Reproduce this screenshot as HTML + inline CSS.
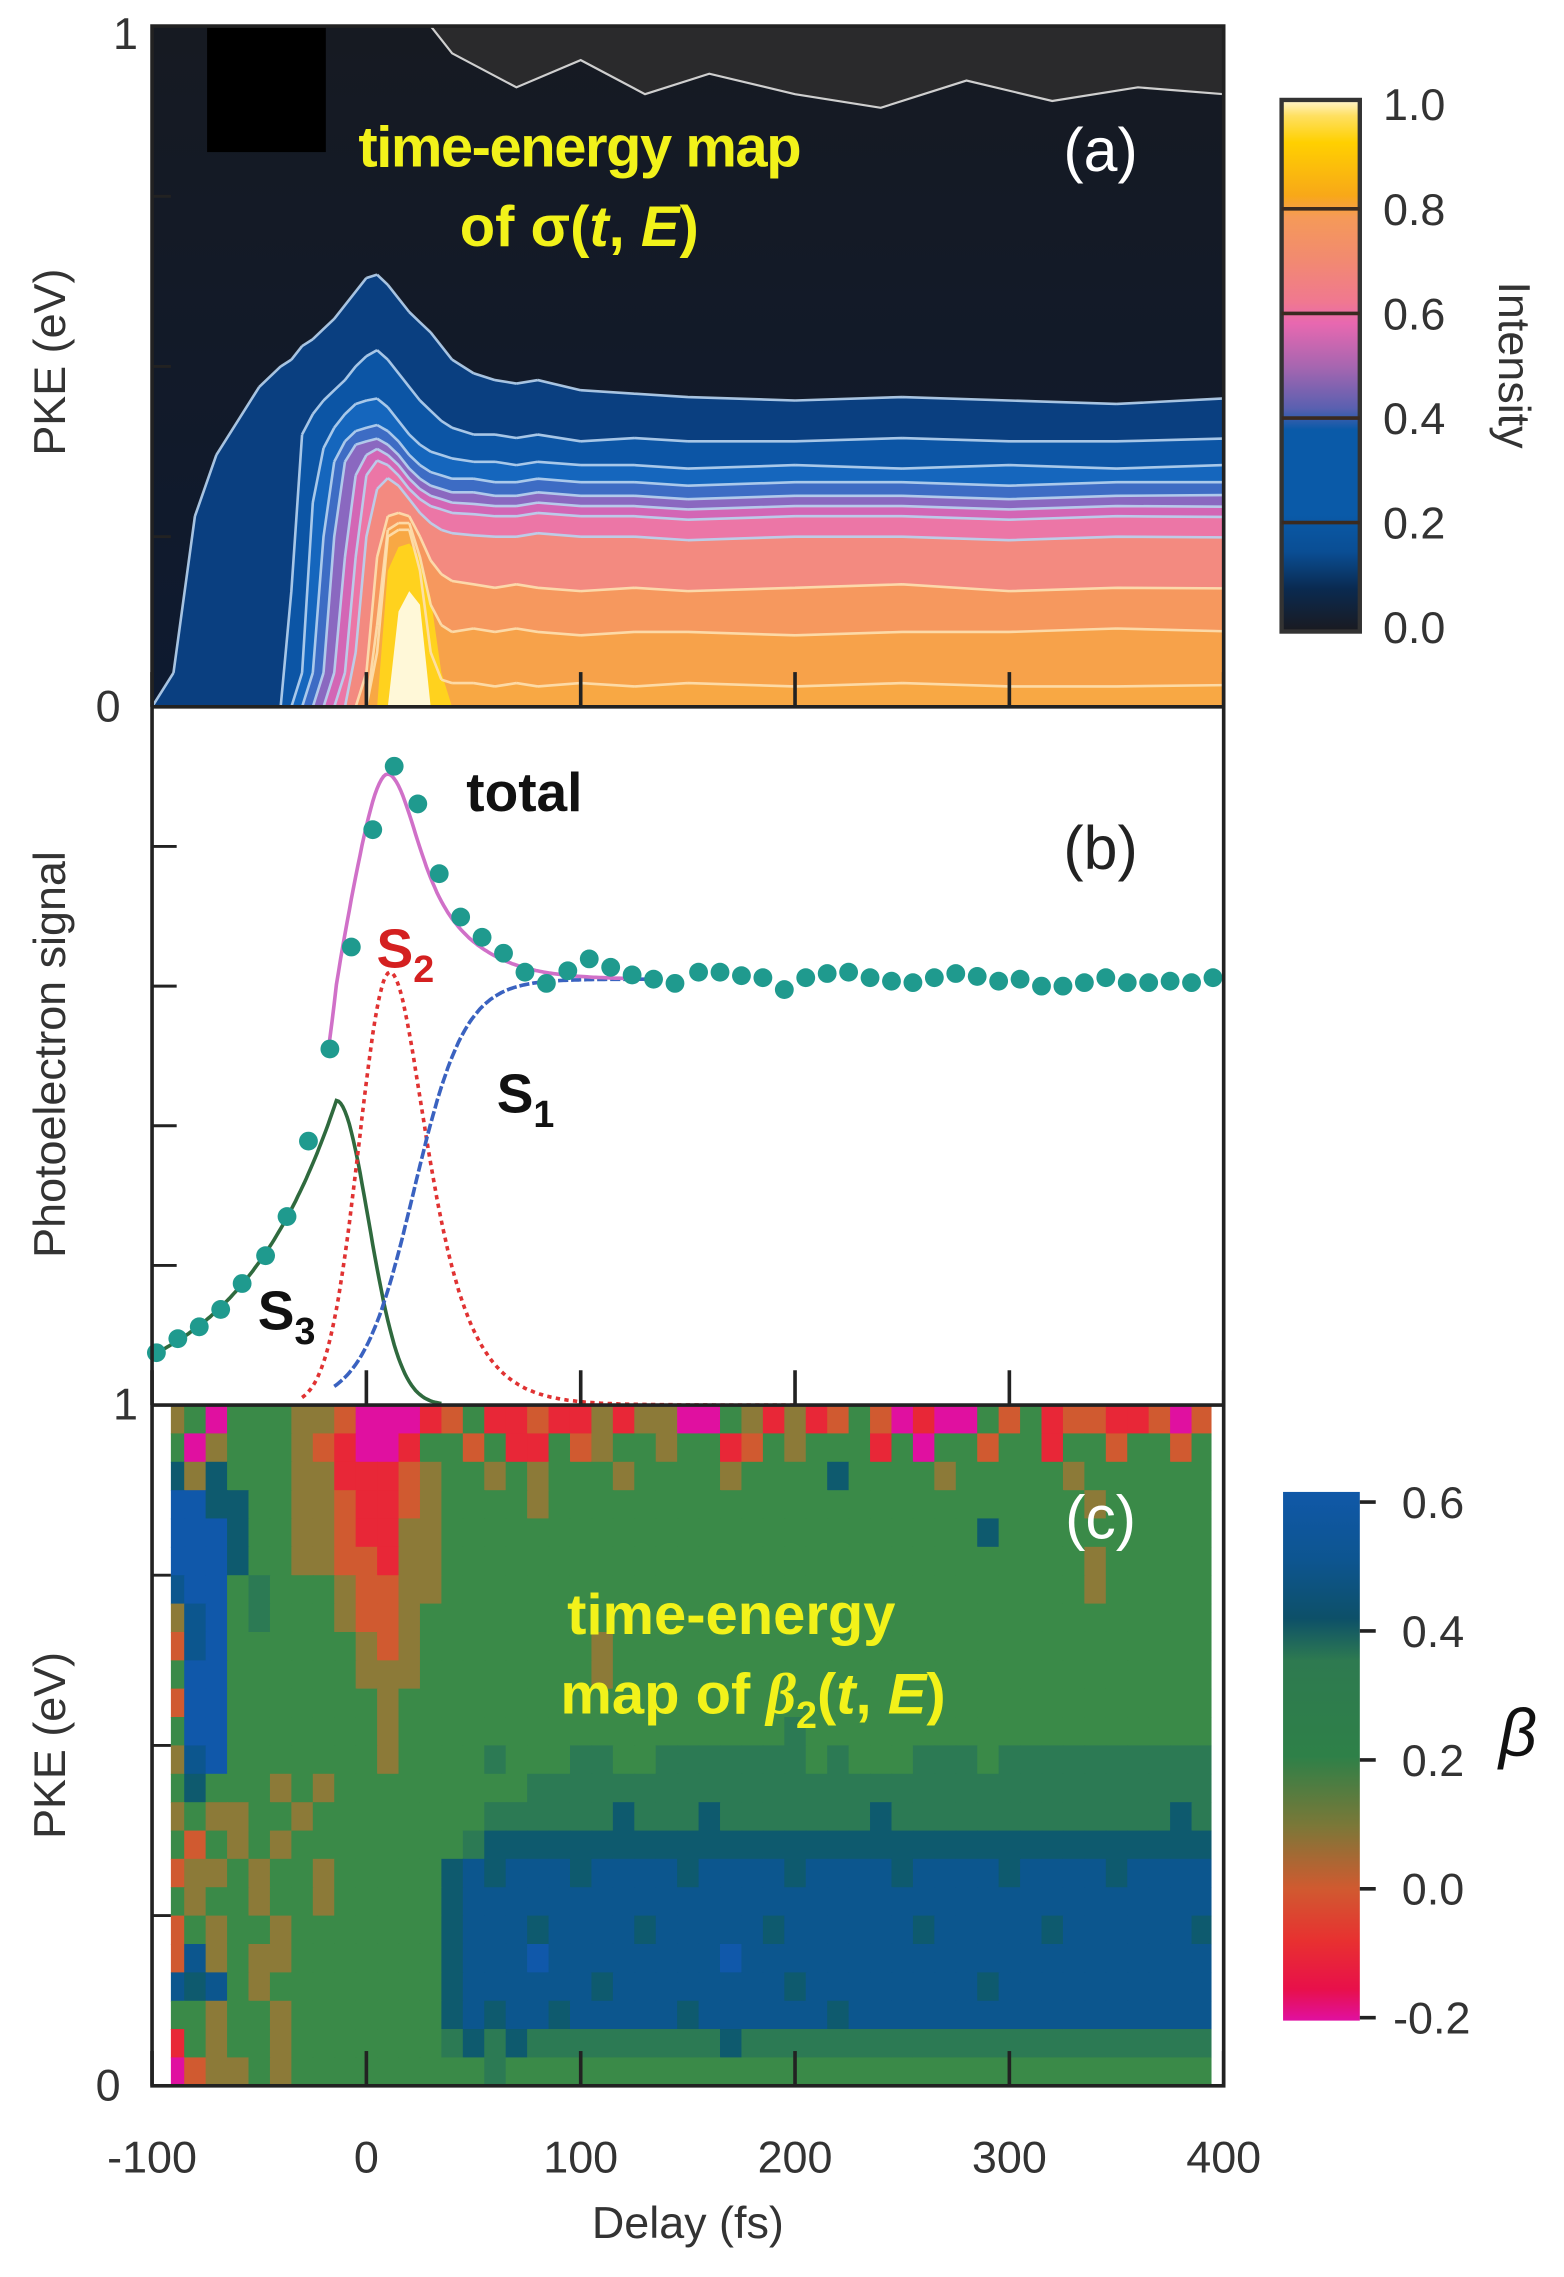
<!DOCTYPE html>
<html><head><meta charset="utf-8"><title>Time-energy maps</title>
<style>html,body{margin:0;padding:0;background:#fff}svg{display:block}text{font-family:"Liberation Sans",sans-serif}</style>
</head><body>
<svg id="fig" xmlns="http://www.w3.org/2000/svg" width="1564" height="2277" viewBox="0 0 1080 1572" preserveAspectRatio="none">
<defs>
<clipPath id="clipA"><rect x="105" y="18" width="740" height="470"/></clipPath>
<clipPath id="clipB"><rect x="105" y="488" width="740" height="482"/></clipPath>
<linearGradient id="gradA" x1="0" y1="1" x2="0" y2="0">
<stop offset="0" stop-color="#1a1a20"/><stop offset="0.08" stop-color="#0a2a50"/><stop offset="0.15" stop-color="#0a4e94"/><stop offset="0.22" stop-color="#0a5aa8"/><stop offset="0.38" stop-color="#0a5aa8"/><stop offset="0.42" stop-color="#5a60b0"/><stop offset="0.5" stop-color="#a866b0"/><stop offset="0.58" stop-color="#e868b0"/><stop offset="0.62" stop-color="#f07890"/><stop offset="0.7" stop-color="#f28a70"/><stop offset="0.78" stop-color="#f59a58"/><stop offset="0.82" stop-color="#f8a818"/><stop offset="0.92" stop-color="#ffd000"/><stop offset="0.97" stop-color="#ffe060"/><stop offset="1" stop-color="#fff5d0"/>
</linearGradient>
<linearGradient id="gradC" x1="0" y1="1" x2="0" y2="0">
<stop offset="0" stop-color="#e010a0"/><stop offset="0.06" stop-color="#e8104a"/><stop offset="0.15" stop-color="#e83030"/><stop offset="0.25" stop-color="#d05a30"/><stop offset="0.37" stop-color="#7a7838"/><stop offset="0.5" stop-color="#2e8048"/><stop offset="0.68" stop-color="#2e7a50"/><stop offset="0.76" stop-color="#0d5068"/><stop offset="0.87" stop-color="#0d5590"/><stop offset="1" stop-color="#1058a8"/>
</linearGradient>
<linearGradient id="bgA" x1="0" y1="0" x2="0" y2="1"><stop offset="0" stop-color="#161a22"/><stop offset="1" stop-color="#0e1a30"/></linearGradient>
</defs>
<g id="panelA" clip-path="url(#clipA)"></g>
<g id="panelB"></g>
<g id="panelC"></g>
<g id="overlay"></g>
</svg>
<script>
// ---------- Panel (a) data: contour boundaries (PKE in eV) vs delay ----------
const contourDelays = [-100,-90,-80,-70,-60,-50,-40,-35,-30,-25,-20,-15,-10,-5,0,5,10,15,20,25,30,35,40,50,60,70,80,100,125,150,200,250,300,350,400];
const contour1 = [0,.05,.28,.37,.42,.47,.50,.51,.53,.54,.555,.57,.59,.61,.63,.635,.62,.60,.58,.565,.55,.53,.51,.49,.48,.475,.48,.465,.46,.455,.45,.455,.45,.445,.453];
const contour2 = [0,0,0,0,0,0,0,.17,.40,.43,.45,.465,.48,.50,.515,.524,.51,.49,.47,.45,.435,.42,.41,.40,.40,.395,.40,.39,.395,.39,.39,.395,.39,.39,.394];
const contour3 = [0,0,0,0,0,0,0,0,.05,.30,.38,.41,.43,.445,.45,.453,.44,.42,.40,.385,.375,.37,.365,.36,.36,.355,.36,.355,.355,.35,.355,.35,.355,.35,.355];
const contour4 = [0,0,0,0,0,0,0,0,0,.05,.25,.36,.39,.405,.41,.414,.405,.39,.37,.355,.345,.34,.335,.335,.33,.33,.335,.33,.33,.325,.33,.33,.325,.33,.33];
const contour5 = [0,0,0,0,0,0,0,0,0,0,.05,.25,.36,.385,.39,.394,.385,.37,.35,.335,.325,.32,.315,.315,.31,.31,.315,.31,.31,.305,.31,.31,.305,.31,.311];
const contour6 = [0,0,0,0,0,0,0,0,0,0,0,.05,.22,.34,.37,.379,.37,.355,.335,.32,.31,.305,.30,.298,.295,.295,.30,.295,.295,.29,.295,.295,.29,.295,.294];
const contour7 = [0,0,0,0,0,0,0,0,0,0,0,0,.05,.22,.34,.362,.355,.34,.32,.305,.295,.29,.285,.283,.28,.28,.285,.28,.28,.275,.28,.28,.275,.28,.279];
const contour8 = [0,0,0,0,0,0,0,0,0,0,0,0,0,.08,.25,.32,.336,.325,.305,.285,.27,.26,.255,.252,.25,.25,.255,.25,.25,.245,.25,.25,.245,.25,.249];
const contour9 = [0,0,0,0,0,0,0,0,0,0,0,0,0,0,.05,.22,.28,.285,.28,.25,.215,.195,.185,.18,.175,.18,.175,.17,.175,.17,.175,.18,.17,.175,.174];
const contour10 = [0,0,0,0,0,0,0,0,0,0,0,0,0,0,0,.12,.26,.27,.27,.22,.15,.12,.11,.115,.11,.115,.11,.105,.11,.11,.105,.11,.11,.115,.111];
const contour11 = [0,0,0,0,0,0,0,0,0,0,0,0,0,0,0,.08,.25,.26,.26,.2,.08,.04,.035,.035,.03,.035,.03,.035,.03,.035,.03,.035,.03,.03,.032];
const contour12 = [0,0,0,0,0,0,0,0,0,0,0,0,0,0,0,0,.2,.235,.24,.22,.16,.05,0,0,0,0,0,0,0,0,0,0,0,0,0];
const contour13 = [0,0,0,0,0,0,0,0,0,0,0,0,0,0,0,0,0,.14,.17,.15,0,0,0,0,0,0,0,0,0,0,0,0,0,0,0];
const contourColors = ["#0a3f80","#0c55a5","#1566bd","#3d6cc4","#8a68c0","#d366b5","#ec76a6","#f38a80","#f6985e","#f7a24a","#f8a844","#ffd21e","#fff8d8"];

// ---------- Panel (b) data ----------
const dotDelays = [-98,-88,-78,-68,-58,-47,-37,-27,-17,-7,3,13,24,34,44,54,64,74,84,94,104,114,124,134,144,155,165,175,185,195,205,215,225,235,245,255,265,275,285,295,305,315,325,335,345,355,365,375,385,395];
const dotSignal = [.075,.095,.112,.137,.174,.214,.27,.378,.51,.656,.824,.915,.861,.761,.699,.670,.647,.620,.604,.622,.639,.627,.616,.610,.604,.620,.620,.615,.612,.595,.612,.618,.62,.612,.607,.605,.612,.618,.614,.607,.61,.6,.6,.605,.612,.605,.605,.607,.605,.612];
const s1Params = [0.61, 22, 12];        // amplitude, centre (fs), width (fs)
const s2Params = [0.62, 11, 14.4, 16];  // amplitude, centre, rise sigma, decay width
const s3Params = [0.436, -14, 47.6, 15];// amplitude, peak, rise tau, decay sigma
const yTicksB = [0.2,0.4,0.6,0.8];

// ---------- Panel (c) data: beta code per cell (beta = -0.2 + 0.1*digit) ----------
const betaDelayStart = -90;
const betaRows = [
"3404443320001241121131330043131242010042412211202",
"4034443210014424114234434412434441404424414424424",
"6364443311123443434443444434444644443444443444444",
"8866443321123444434444444444444444444444444344444",
"8886443321133444444444444444444444444464444444444",
"8886443322133444444444444444444444444444444344444",
"7884544432233444444444444444444444444444444344444",
"3784544432234444444444444444444444444444444444444",
"2784444443234444444434444444444444444444444444444",
"4884444443334444444434444444444444444444444444444",
"2884444444344444444444444444444444444444444444444",
"4884444444344444444444444444454444444444444444444",
"3784444444344445444554455555554544455545555555555",
"4644434344444444455555555555555555555555555555555",
"3433443444444445555556555655555556555555555555565",
"4243434444444456666666666666666666666666666666666",
"2334344344444676777677776777767777677776777767777",
"4344344344444677777777777777777777777777777777777",
"2434434444444677767777677777677777767777767777776",
"2734334444444677787777777787777777777777777777777",
"7674344444444677777767777777767777777767777777777",
"4434434444444676776777776777777677777777777777777",
"1434434444444565655555555565555555555555555555555",
"0233434444444445444444444444444444444444444444444"];
const betaColorStops = [[-0.2,[224,16,160]],[-0.15,[232,16,74]],[-0.08,[232,48,48]],[0.0,[208,90,48]],[0.1,[140,122,56]],[0.2,[58,138,72]],[0.3,[44,122,84]],[0.4,[14,90,110]],[0.5,[12,86,142]],[0.6,[16,88,170]]];

const xTicks = [-100,0,100,200,300,400];
const cbarATicks = [0.0,0.2,0.4,0.6,0.8,1.0];
const cbarCTicks = [-0.2,0.0,0.2,0.4,0.6];

// ---------- scales ----------
const NS = "http://www.w3.org/2000/svg";
const xS = t => 105 + (t + 100) * 1.48;
const yA = p => 488 - p * 470;
const yB = v => 970 - v * 482;
const yC = p => 1440 - p * 470;
function mk(tag, attrs, parent) { const e = document.createElementNS(NS, tag); for (const k in attrs) e.setAttribute(k, attrs[k]); parent.appendChild(e); return e; }

// ---------- Panel A ----------
const gA = document.getElementById('panelA');
const bg = mk('rect', {x:105, y:18, width:740, height:470, fill:'url(#bgA)'}, gA);


// noisy gray patches at the top
const patchDelays = [40,70,100,130,160,200,240,280,320,360,400];
const patchDepth = [0.96,0.91,0.95,0.9,0.93,0.9,0.88,0.92,0.89,0.91,0.9];
let pd = 'M' + xS(30) + ',' + yA(1);
patchDelays.forEach((t,i) => { pd += ' L' + xS(t) + ',' + yA(patchDepth[i]); });
pd += ' L' + xS(400) + ',' + yA(1) + ' Z';
const patch = mk('path', {d:pd, fill:'#2a2a2c', stroke:'#cfcfcf', 'stroke-width':1.5}, gA);


const blk = mk('rect', {x:143, y:18, width:82, height:87, fill:'#000'}, gA);



const contours = [contour1,contour2,contour3,contour4,contour5,contour6,contour7,contour8,contour9,contour10,contour11,contour12,contour13];
contours.forEach((c, ci) => {
  let d = 'M' + xS(contourDelays[0]) + ',' + yA(0);
  c.forEach((p, i) => { d += ' L' + xS(contourDelays[i]).toFixed(1) + ',' + yA(p).toFixed(1); });
  d += ' L' + xS(400) + ',' + yA(0) + ' Z';
  const band = mk('path', {d:d, fill:contourColors[ci]}, gA);
  
  
});
contours.forEach((c, ci) => {
  if (ci >= 11) return;
  let d = '';
  for (let i = 1; i < c.length; i++) {
    if (c[i] === 0 && c[i-1] === 0) continue;
    d += 'M' + xS(contourDelays[i-1]).toFixed(1) + ',' + yA(c[i-1]).toFixed(1) + ' L' + xS(contourDelays[i]).toFixed(1) + ',' + yA(c[i]).toFixed(1) + ' ';
  }
  const line = mk('path', {d:d, fill:'none', stroke: ci < 8 ? '#b8d4f0' : '#fde0b0', 'stroke-width':1.8, 'stroke-linejoin':'round', opacity:0.9}, gA);
  
  
});

// ---------- Panel B ----------
const gB = document.getElementById('panelB');
const bgB = mk('rect', {x:105, y:488, width:740, height:482, fill:'#fff'}, gB);


const S1 = t => s1Params[0] / (1 + Math.exp(-(t - s1Params[1]) / s1Params[2]));
const S2 = t => t < s2Params[1] ? s2Params[0] * Math.exp(-Math.pow(t - s2Params[1], 2) / (2 * s2Params[2] * s2Params[2])) : s2Params[0] / Math.cosh((t - s2Params[1]) / s2Params[3]);
const S3 = t => t < s3Params[1] ? s3Params[0] * Math.exp((t - s3Params[1]) / s3Params[2]) : s3Params[0] * Math.exp(-Math.pow(t - s3Params[1], 2) / (2 * s3Params[3] * s3Params[3]));
function curve(f, t0, t1) { let d = ''; for (let t = t0; t <= t1; t += 1) { const v = Math.max(f(t), 0); d += (d ? ' L' : 'M') + xS(t).toFixed(1) + ',' + Math.min(yB(v), 970).toFixed(1); } return d; }
const gBc = mk('g', {'clip-path':'url(#clipB)'}, gB);
const c3 = mk('path', {d:curve(S3, -100, 35), fill:'none', stroke:'#2f6a3e', 'stroke-width':2.5}, gBc);


const c2 = mk('path', {d:curve(S2, -30, 200), fill:'none', stroke:'#e03232', 'stroke-width':2.5, 'stroke-dasharray':'3,3'}, gBc);


const c1 = mk('path', {d:curve(S1, -15, 135), fill:'none', stroke:'#3a62c0', 'stroke-width':2.5, 'stroke-dasharray':'7,2'}, gBc);


const ct = mk('path', {d:curve(t => S1(t)+S2(t)+S3(t), -18, 125), fill:'none', stroke:'#d070c8', 'stroke-width':2.5}, gBc);


dotDelays.forEach((t, i) => {
  const dot = mk('circle', {cx:xS(t).toFixed(1), cy:yB(dotSignal[i]).toFixed(1), r:6.5, fill:'#1f9a8e'}, gB);
  
  
});

// ---------- Panel C ----------
const gC = document.getElementById('panelC');
const bgC = mk('rect', {x:105, y:970, width:740, height:470, fill:'#fff'}, gC);


function betaColor(b) {
  const s = betaColorStops;
  if (b <= s[0][0]) return 'rgb(' + s[0][1].join(',') + ')';
  for (let i = 1; i < s.length; i++) {
    if (b <= s[i][0]) { const f = (b - s[i-1][0]) / (s[i][0] - s[i-1][0]); const c = s[i-1][1].map((v, k) => Math.round(v + (s[i][1][k] - v) * f)); return 'rgb(' + c.join(',') + ')'; }
  }
  return 'rgb(' + s[s.length-1][1].join(',') + ')';
}
const nRows = betaRows.length;
betaRows.forEach((row, r) => {
  for (let c = 0; c < row.length; c++) {
    const beta = -0.2 + 0.1 * parseInt(row.charAt(c), 10);
    const t0 = betaDelayStart + c * 10 - 5;
    const p1 = 1 - r / nRows, p0 = 1 - (r + 1) / nRows;
    const x0 = Math.max(xS(t0), 118), x1 = Math.min(xS(t0 + 10), 836);
    const cell = mk('rect', {x:x0.toFixed(1), y:yC(p1).toFixed(1), width:(x1 - x0 + 0.6).toFixed(1), height:(yC(p0) - yC(p1) + 0.6).toFixed(1), fill:betaColor(beta)}, gC);
    
    
  }
});

// ---------- Axes / overlay ----------
const ov = document.getElementById('overlay');
function txt(s, x, y, attrs, name) { const e = mk('text', Object.assign({x:x, y:y}, attrs), ov); e.textContent = s;   return e; }
const frame = mk('rect', {x:105, y:18, width:740, height:1422, fill:'none', stroke:'#222', 'stroke-width':2.5}, ov);


[488, 970].forEach(y => {
  const l = mk('line', {x1:105, x2:845, y1:y, y2:y, stroke:'#222', 'stroke-width':2.5}, ov);
  
  
});
xTicks.forEach(t => {
  [488, 970, 1440].forEach(yb => {
    const tk = mk('line', {x1:xS(t), x2:xS(t), y1:yb, y2:yb - 24, stroke:'#222', 'stroke-width':2.5}, ov);
    
    
  });
  txt(String(t), xS(t), 1500, {'font-size':31, 'text-anchor':'middle', fill:'#333'}, 'x-tick-label');
});
[0.25, 0.5, 0.75].forEach(p => {
  [yA(p), yC(p)].forEach(y => {
    const tk = mk('line', {x1:105, x2:118, y1:y, y2:y, stroke:'#222', 'stroke-width':2}, ov);
    
    
  });
});
yTicksB.forEach(v => {
  const tk = mk('line', {x1:105, x2:122, y1:yB(v), y2:yB(v), stroke:'#222', 'stroke-width':2}, ov);
  
  
});
txt('1', 78, 34, {'font-size':31, fill:'#333'}, 'y-tick-label');
txt('0', 66, 498, {'font-size':31, fill:'#333'}, 'y-tick-label');
txt('1', 78, 980, {'font-size':31, fill:'#333'}, 'y-tick-label');
txt('0', 66, 1450, {'font-size':31, fill:'#333'}, 'y-tick-label');
txt('Delay (fs)', 475, 1545, {'font-size':31, 'text-anchor':'middle', fill:'#333'}, 'x-axis-title');
txt('PKE (eV)', 0, 0, {'font-size':31, 'text-anchor':'middle', fill:'#333', transform:'translate(45,250) rotate(-90)'}, 'y-axis-title-a');
txt('Photoelectron signal', 0, 0, {'font-size':31, 'text-anchor':'middle', fill:'#333', transform:'translate(45,728) rotate(-90)'}, 'y-axis-title-b');
txt('PKE (eV)', 0, 0, {'font-size':31, 'text-anchor':'middle', fill:'#333', transform:'translate(45,1205) rotate(-90)'}, 'y-axis-title-c');
txt('time-energy map', 400, 115, {'font-size':40, 'font-weight':'bold', 'text-anchor':'middle', fill:'#f2f21a', 'letter-spacing':-1}, 'annotation-a-line1');
const ta = txt('', 400, 170, {'font-size':40, 'font-weight':'bold', 'text-anchor':'middle', fill:'#f2f21a'}, 'annotation-a-line2');
ta.innerHTML = 'of σ(<tspan font-style="italic">t</tspan>, <tspan font-style="italic">E</tspan>)';
txt('(a)', 760, 118, {'font-size':42, 'text-anchor':'middle', fill:'#fff'}, 'panel-label-a');
txt('(b)', 760, 600, {'font-size':42, 'text-anchor':'middle', fill:'#222'}, 'panel-label-b');
txt('(c)', 760, 1062, {'font-size':42, 'text-anchor':'middle', fill:'#fff'}, 'panel-label-c');
txt('time-energy', 505, 1128, {'font-size':40, 'font-weight':'bold', 'text-anchor':'middle', fill:'#f2f21a'}, 'annotation-c-line1');
const tc = txt('', 520, 1183, {'font-size':40, 'font-weight':'bold', 'text-anchor':'middle', fill:'#f2f21a'}, 'annotation-c-line2');
tc.innerHTML = 'map of <tspan font-style="italic" font-family="Liberation Serif">β</tspan><tspan font-size="26" dy="10">2</tspan><tspan dy="-10">(</tspan><tspan font-style="italic">t</tspan>, <tspan font-style="italic">E</tspan>)';
txt('total', 322, 560, {'font-size':38, 'font-weight':'bold', fill:'#111'}, 'label-total');
const s2l = txt('', 260, 668, {'font-size':38, 'font-weight':'bold', fill:'#d42020'}, 'label-s2');
s2l.innerHTML = 'S<tspan font-size="26" dy="10">2</tspan>';
const s1l = txt('', 343, 768, {'font-size':38, 'font-weight':'bold', fill:'#111'}, 'label-s1');
s1l.innerHTML = 'S<tspan font-size="26" dy="10">1</tspan>';
const s3l = txt('', 178, 918, {'font-size':38, 'font-weight':'bold', fill:'#111'}, 'label-s3');
s3l.innerHTML = 'S<tspan font-size="26" dy="10">3</tspan>';
const cbA = mk('rect', {x:885, y:69, width:54, height:367, fill:'url(#gradA)', stroke:'#333', 'stroke-width':3}, ov);


const cbAy = v => 433 - v * 361;
cbarATicks.forEach(v => {
  if (v > 0 && v < 1) { const l = mk('line', {x1:885, x2:939, y1:cbAy(v), y2:cbAy(v), stroke:'#3a2a20', 'stroke-width':2.5}, ov);   }
  txt(v.toFixed(1), 955, cbAy(v) + 11, {'font-size':31, fill:'#333'}, 'colorbar-tick-label');
});
txt('Intensity', 0, 0, {'font-size':31, 'text-anchor':'middle', fill:'#333', transform:'translate(1035,252) rotate(90)'}, 'colorbar-title-a');
const cbC = mk('rect', {x:886, y:1030, width:53, height:365, fill:'url(#gradC)'}, ov);


const cbCy = v => 1393 - (v + 0.2) / 0.8 * 356;
cbarCTicks.forEach(v => {
  const l = mk('line', {x1:939, x2:950, y1:cbCy(v), y2:cbCy(v), stroke:'#222', 'stroke-width':2.5}, ov);
  
  
  txt(v.toFixed(1), v < 0 ? 962 : 968, cbCy(v) + 11, {'font-size':31, fill:'#333'}, 'colorbar-tick-label');
});
txt('β', 1035, 1212, {'font-size':46, 'font-style':'italic', 'font-family':'Liberation Serif', fill:'#111'}, 'colorbar-title-c');
</script>
</body></html>
